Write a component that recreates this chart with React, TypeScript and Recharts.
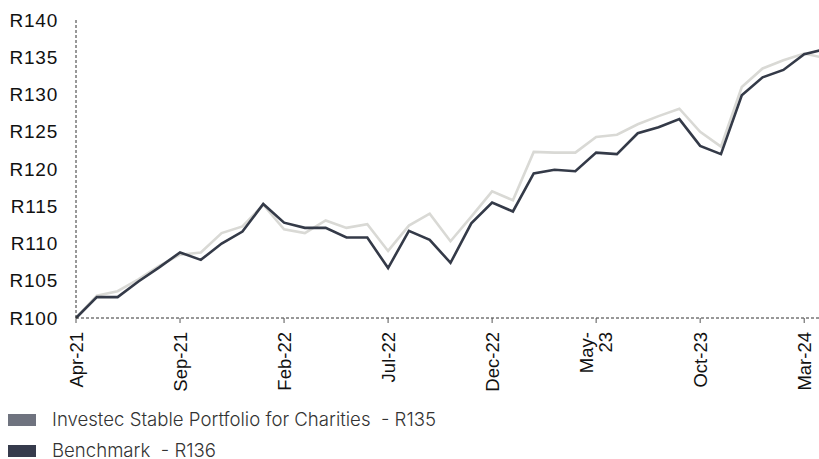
import React from "react";
import { LineChart, Line, XAxis, YAxis, Legend } from "recharts";

// month labels, Apr-21 .. Apr-24 (last point sits just past the right edge)
const months = [
  "Apr-21", "May-21", "Jun-21", "Jul-21", "Aug-21", "Sep-21", "Oct-21", "Nov-21", "Dec-21",
  "Jan-22", "Feb-22", "Mar-22", "Apr-22", "May-22", "Jun-22", "Jul-22", "Aug-22", "Sep-22",
  "Oct-22", "Nov-22", "Dec-22", "Jan-23", "Feb-23", "Mar-23", "Apr-23", "May-23", "Jun-23",
  "Jul-23", "Aug-23", "Sep-23", "Oct-23", "Nov-23", "Dec-23", "Jan-24", "Feb-24", "Mar-24",
  "Apr-24",
];

const portfolio = [
  100, 103.0, 103.6, 105.2, 107.0, 108.5, 108.8, 111.4, 112.3, 115.2,
  111.9, 111.4, 113.1, 112.1, 112.6, 109.0, 112.4, 114.0, 110.3, 113.6,
  117.0, 115.8, 122.3, 122.2, 122.2, 124.3, 124.6, 126.0, 127.1, 128.1,
  125.0, 123.0, 131.0, 133.5, 134.6, 135.5, 134.9,
];

const benchmark = [
  100, 102.8, 102.8, 104.9, 106.8, 108.8, 107.8, 110.0, 111.6, 115.3,
  112.8, 112.1, 112.1, 110.8, 110.8, 106.7, 111.7, 110.5, 107.4, 112.7,
  115.5, 114.3, 119.4, 119.9, 119.7, 122.2, 122.0, 124.8, 125.6, 126.7,
  123.1, 122.0, 129.9, 132.3, 133.3, 135.4, 136.1,
];

const yTicks = [100, 105, 110, 115, 120, 125, 130, 135, 140];

const legendItems = [
  { label: "Investec Stable Portfolio for Charities  - R135", swatch: "#6f737f" },
  { label: "Benchmark  - R136", swatch: "#363b4c" },
];

// Excel wrapped this one label onto two lines
const wrappedTicks: Record<string, string[]> = { "May-23": ["May-", "23"] };

const data = months.map((m, i) => ({
  month: m,
  portfolio: portfolio[i],
  benchmark: benchmark[i],
}));

const MonthTick = (props: any) => {
  const { x, y, payload } = props;
  const lines = wrappedTicks[payload.value] || [payload.value];
  const offset = ((lines.length - 1) * 19) / 2;
  return (
    <g transform={`translate(${x},${y + 7})`}>
      {lines.map((l, i) => (
        <text
          key={i}
          transform="rotate(-90)"
          x={0}
          y={i * 19 - offset}
          dy="0.36em"
          textAnchor="end"
          fontSize={18.5}
          fill="#111"
          fontFamily="'Liberation Sans', Arial, sans-serif"
        >
          {l}
        </text>
      ))}
    </g>
  );
};

const LegendBox = () => (
  <div style={{ height: 66, paddingTop: 10, boxSizing: "border-box" }}>
    {legendItems.map((it) => (
      <div
        key={it.label}
        style={{ height: 31, display: "flex", alignItems: "center", paddingLeft: 8 }}
      >
        <span
          style={{
            width: 28,
            height: 12,
            marginTop: 2,
            background: it.swatch,
            display: "inline-block",
          }}
        />
        <span
          style={{
            marginLeft: 16,
            fontFamily: "Inter, sans-serif",
            fontSize: 18.6,
            fontWeight: 300,
            color: "#333",
            whiteSpace: "pre",
            lineHeight: "18px",
          }}
        >
          {it.label}
        </span>
      </div>
    ))}
  </div>
);

export default function App() {
  return (
    <div
      style={{
        position: "absolute",
        top: 0,
        left: 0,
        width: 819,
        height: 459,
        overflow: "hidden",
        background: "#fff",
      }}
    >
      <LineChart
        width={830}
        height={459}
        data={data}
        margin={{ top: 20, right: 5, left: 0, bottom: 0 }}
      >
        <XAxis
          dataKey="month"
          interval={4}
          height={75}
          tickSize={5}
          tickMargin={2}
          tickLine={{ stroke: "#555" }}
          axisLine={{ stroke: "#333", strokeDasharray: "3 2" }}
          tick={<MonthTick />}
        />
        <YAxis
          domain={[100, 140]}
          ticks={yTicks}
          interval={0}
          width={76}
          tickLine={false}
          tickSize={0}
          tickMargin={18}
          axisLine={{ stroke: "#333", strokeDasharray: "3 2" }}
          tickFormatter={(v) => `R${v}`}
          tick={{
            fontSize: 19,
            fill: "#111",
            fontFamily: "'Liberation Sans', Arial, sans-serif",
            letterSpacing: 0.8,
          }}
        />
        <Legend
          verticalAlign="bottom"
          align="left"
          layout="horizontal"
          content={<LegendBox />}
          wrapperStyle={{ left: 0, bottom: 0 }}
        />
        <Line
          type="linear"
          dataKey="portfolio"
          stroke="#d9d9d5"
          strokeWidth={2.6}
          dot={false}
          isAnimationActive={false}
        />
        <Line
          type="linear"
          dataKey="benchmark"
          stroke="#343a48"
          strokeWidth={2.6}
          dot={false}
          isAnimationActive={false}
        />
      </LineChart>
    </div>
  );
}
